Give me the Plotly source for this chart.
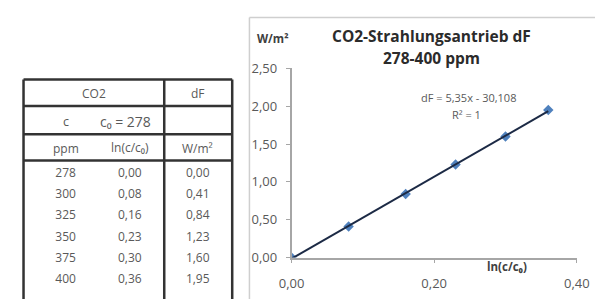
import numpy as np
import plotly.graph_objects as go

# ---- data ----
ppm = [278, 300, 325, 350, 375, 400]
ln_ratio = [0.00, 0.08, 0.16, 0.23, 0.30, 0.36]
dF = [0.00, 0.41, 0.84, 1.23, 1.60, 1.95]
x_ticks = [0.0, 0.2, 0.4]
y_ticks = [0.0, 0.5, 1.0, 1.5, 2.0, 2.5]
equation_lines = ["dF = 5,35x - 30,108", "R² = 1"]
title_lines = ["CO2-Strahlungsantrieb dF", "278-400 ppm"]

W, H = 608, 308
FONT = "Open Sans, Arial"
def fmt(v):
    return f"{v:.2f}".replace(".", ",")

fig = go.Figure()

# trendline (linear fit of the series)
coef = np.polyfit(ln_ratio, dF, 1)
tx = [min(ln_ratio), max(ln_ratio)]
ty = [coef[0] * v + coef[1] for v in tx]

fig.add_trace(go.Scatter(x=ln_ratio, y=dF, mode="markers",
                         marker=dict(symbol="diamond", size=8, color="#4F81BD"),
                         showlegend=False, xaxis="x", yaxis="y"))
fig.add_trace(go.Scatter(x=tx, y=ty, mode="lines",
                         line=dict(color="#1c2a45", width=2),
                         showlegend=False, xaxis="x", yaxis="y"))

# ---- table as a text trace on its own pixel-like axes ----
col_x = [55, 122, 193]
data_row_y = [175, 198, 220, 243, 265, 288]
tx_list, ty_list, tt_list = [], [], []
for i in range(len(ppm)):
    for cx, val in zip(col_x, [str(ppm[i]), fmt(ln_ratio[i]), fmt(dF[i])]):
        tx_list.append(cx); ty_list.append(data_row_y[i]); tt_list.append(val)
fig.add_trace(go.Scatter(x=tx_list, y=ty_list, text=tt_list, mode="text",
                         textfont=dict(family=FONT, size=12, color="#595959"),
                         showlegend=False, xaxis="x2", yaxis="y2", hoverinfo="skip"))

header = [
    (85, 90, "CO2", 12), (193, 90, "dF", 12),
    (55, 120, "c", 12.5), (118, 119, "c₀ = 278", 14),
    (55, 148, "ppm", 12), (122, 147, "ln(c/c₀)", 12), (193, 148, "W/m²", 12),
]
for hx, hy, ht, hs in header:
    fig.add_annotation(x=hx, y=hy, xref="x2", yref="y2", text=ht, showarrow=False,
                       xanchor="center", yanchor="middle",
                       font=dict(family=FONT, size=hs, color="#595959"))

tl, tm, tr = 11, 158, 229
for yy in [75, 103, 133, 161]:
    fig.add_shape(type="line", x0=tl, x1=tr, y0=yy, y1=yy, xref="x2", yref="y2",
                  line=dict(color="#333333", width=2.5))
for xx in [tl, tm, tr]:
    fig.add_shape(type="line", x0=xx, x1=xx, y0=75, y1=310, xref="x2", yref="y2",
                  line=dict(color="#333333", width=2.5))

# chart frame
fig.add_shape(type="line", x0=247/W, x1=247/W, y0=0, y1=1-9/H, xref="paper", yref="paper",
              line=dict(color="#cfcfcf", width=1.5))
fig.add_shape(type="line", x0=247/W, x1=1, y0=1-9/H, y1=1-9/H, xref="paper", yref="paper",
              line=dict(color="#cfcfcf", width=1.5))

# chart texts
def ann(x, y, text, size, color):
    fig.add_annotation(x=x/W, y=1-y/H, xref="paper", yref="paper", text=text,
                       showarrow=False, xanchor="center", yanchor="middle",
                       font=dict(family=FONT, size=size, color=color))

ann(437, 29, "<b>" + title_lines[0] + "</b>", 15.5, "#2b2b2b")
ann(437, 52, "<b>" + title_lines[1] + "</b>", 15.5, "#2b2b2b")
ann(272, 31, "<b>W/m²</b>", 11.5, "#404040")
ann(476, 94, equation_lines[0], 11, "#595959")
ann(474, 112, equation_lines[1], 11, "#595959")
ann(516, 273, "<b>ln(c/c₀)</b>", 11.5, "#404040")

axis_font = dict(family=FONT, size=13, color="#595959")
fig.update_layout(
    width=W, height=H, margin=dict(l=0, r=0, t=0, b=0),
    paper_bgcolor="white", plot_bgcolor="white",
    xaxis=dict(domain=[291/W, 589/W], range=[0, 0.4], tickvals=x_ticks,
               ticktext=[fmt(v) for v in x_ticks], showgrid=False, zeroline=False,
               showline=True, linecolor="#a6a6a6", linewidth=1.5, ticks="outside", ticklen=4,
               tickcolor="#a6a6a6", tickfont=axis_font, ticklabelstandoff=9),
    yaxis=dict(domain=[44/H, 245/H], range=[0, 2.5], tickvals=y_ticks,
               ticktext=[fmt(v) for v in y_ticks], showgrid=False, zeroline=False,
               showline=True, linecolor="#a6a6a6", linewidth=1.5, ticks="outside", ticklen=4,
               tickcolor="#a6a6a6", tickfont=axis_font, ticklabelstandoff=6),
    xaxis2=dict(domain=[0, 240/W], range=[0, 240], visible=False, anchor="y2"),
    yaxis2=dict(domain=[0, 1], range=[H, 0], visible=False, anchor="x2"),
)

fig.write_html("out.html", config={"displayModeBar": False},
               post_script="document.body.style.margin='0';")
